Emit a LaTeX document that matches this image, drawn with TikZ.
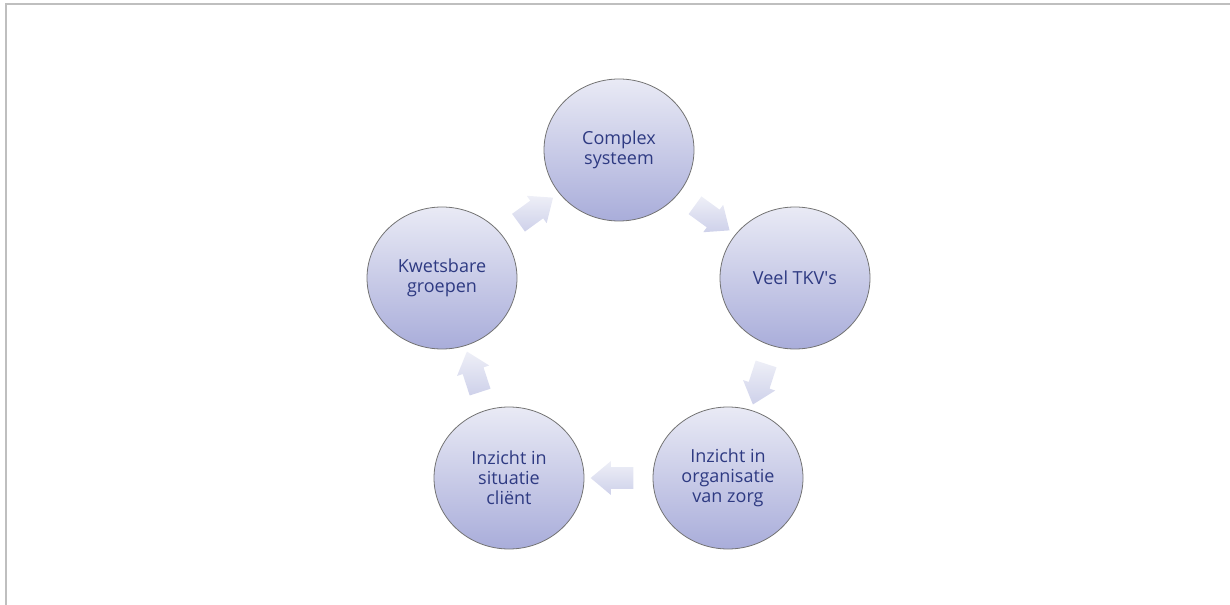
\documentclass[tikz,border=0pt]{standalone}
\usepackage{fontspec}
\setmainfont{Open Sans}
\usetikzlibrary{shapes.geometric,shapes.arrows}
\definecolor{stagetop}{HTML}{E9EAF5}
\definecolor{stagebot}{HTML}{A9ADDA}
\definecolor{stagetext}{HTML}{2E3A82}
\definecolor{flowtop}{HTML}{EEEFF7}
\definecolor{flowbot}{HTML}{CED1EA}
\definecolor{framegray}{HTML}{BFBFBF}

\begin{document}
\begin{tikzpicture}[
  x=0.75pt, y=-0.75pt,
  font=\fontsize{13.5}{15}\selectfont,
  stage/.style={ellipse, draw=black!55, line width=0.6pt, top color=stagetop, bottom color=stagebot,
    minimum width=112.5pt, minimum height=106.5pt, inner sep=0pt, align=center, text=stagetext},
  flow/.style={single arrow, draw=none, top color=flowtop, bottom color=flowbot,
    minimum height=32pt, inner xsep=0pt, inner ysep=8pt, single arrow head extend=4.5pt,
    single arrow tip angle=80},
  frame/.style={draw=framegray, line width=1.5pt}
]
\useasboundingbox (0,0) rectangle (1230,605);
\draw[frame] (6,605) -- (6,4) -- (1230,4);

% cycle of five stages
\node[stage] (sys) at (619,150) {Complex\\systeem};
\node[stage] (tkv) at (795,278) {Veel TKV\textquotesingle s};
\node[stage] (org) at (728,478) {Inzicht in\\organisatie\\van zorg};
\node[stage] (cli) at (509,478) {Inzicht in\\situatie\\cliënt};
\node[stage] (grp) at (442,278) {Kwetsbare\\groepen};

% block arrows between stages
\path (sys) -- node[flow, rotate=-36]{} (tkv);
\path (tkv) -- node[flow, rotate=-108]{} (org);
\path (org) -- node[flow, rotate=180]{} (cli);
\path (cli) -- node[flow, rotate=108]{} (grp);
\path (grp) -- node[flow, rotate=36]{} (sys);
\end{tikzpicture}
\end{document}
